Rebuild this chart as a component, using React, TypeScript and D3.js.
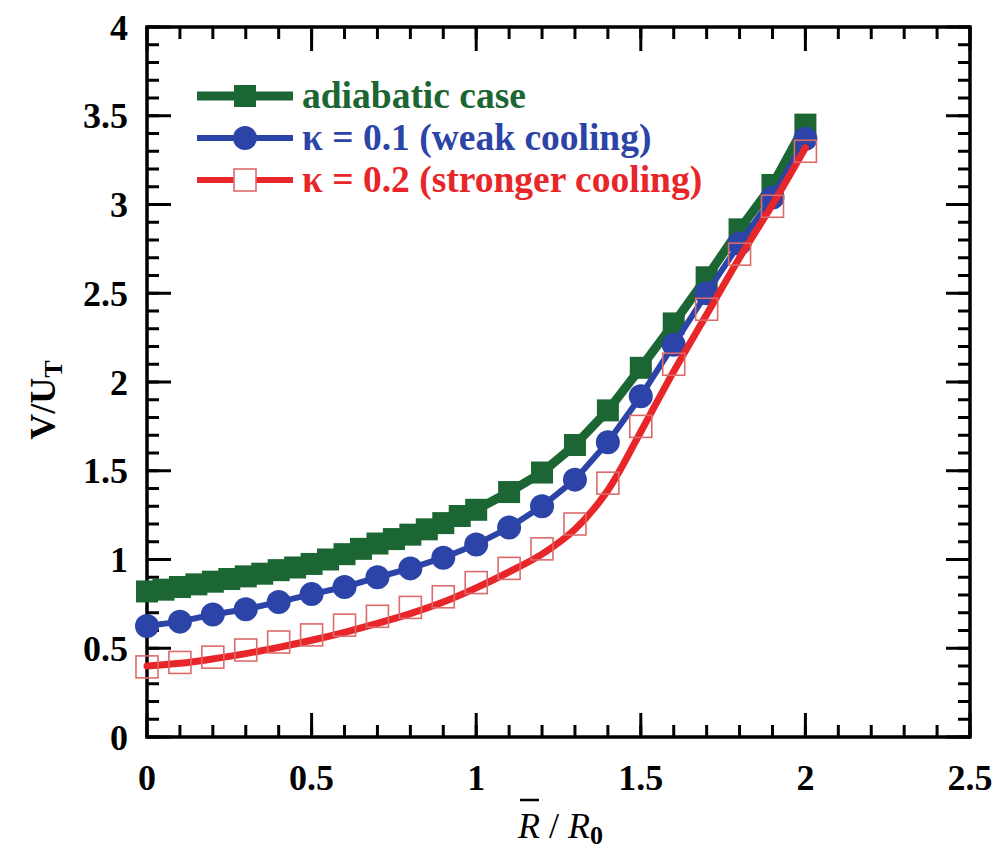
import React from "react";
import * as d3 from "d3";

// ---- data ----
const adiabaticX = [0, 0.05, 0.1, 0.15, 0.2, 0.25, 0.3, 0.35, 0.4, 0.45, 0.5, 0.55, 0.6, 0.65, 0.7, 0.75, 0.8, 0.85, 0.9, 0.95, 1.0, 1.1, 1.2, 1.3, 1.4, 1.5, 1.6, 1.7, 1.8, 1.9, 2.0];
const adiabaticY = [0.82, 0.83, 0.845, 0.86, 0.875, 0.89, 0.905, 0.92, 0.94, 0.955, 0.975, 1.0, 1.03, 1.06, 1.09, 1.115, 1.14, 1.17, 1.205, 1.245, 1.28, 1.38, 1.49, 1.645, 1.84, 2.08, 2.33, 2.59, 2.86, 3.11, 3.45];

const weakX = [0, 0.1, 0.2, 0.3, 0.4, 0.5, 0.6, 0.7, 0.8, 0.9, 1.0, 1.1, 1.2, 1.3, 1.4, 1.5, 1.6, 1.7, 1.8, 1.9, 2.0];
const weakY = [0.625, 0.65, 0.69, 0.72, 0.76, 0.805, 0.845, 0.9, 0.95, 1.01, 1.085, 1.18, 1.3, 1.45, 1.66, 1.92, 2.21, 2.5, 2.78, 3.04, 3.37];

const strongX = [0, 0.1, 0.2, 0.3, 0.4, 0.5, 0.6, 0.7, 0.8, 0.9, 1.0, 1.1, 1.2, 1.3, 1.4, 1.5, 1.6, 1.7, 1.8, 1.9, 2.0];
const strongY = [0.395, 0.42, 0.45, 0.49, 0.535, 0.575, 0.63, 0.68, 0.73, 0.79, 0.87, 0.95, 1.06, 1.2, 1.43, 1.75, 2.1, 2.41, 2.72, 2.99, 3.3];
// smooth curve for the strong-cooling case
const strongLineX = [0, 0.1, 0.2, 0.3, 0.4, 0.5, 0.6, 0.7, 0.8, 0.9, 1.0, 1.1, 1.2, 1.3, 1.4, 1.5, 1.6, 1.7, 1.8, 1.9, 2.0];
const strongLineY = [0.4, 0.415, 0.44, 0.47, 0.505, 0.545, 0.59, 0.64, 0.695, 0.76, 0.84, 0.93, 1.03, 1.17, 1.39, 1.72, 2.06, 2.38, 2.7, 3.0, 3.32];

const xTickLabels = ["0", "0.5", "1", "1.5", "2", "2.5"];
const yTickLabels = ["0", "0.5", "1", "1.5", "2", "2.5", "3", "3.5", "4"];

const legendLabels = ["adiabatic case", "\u03BA = 0.1 (weak cooling)", "\u03BA = 0.2 (stronger cooling)"];

const GREEN = "#1b6633";
const BLUE = "#2c44a8";
const RED = "#e8262a";
const RED_MARK = "#dd6a6a";

const W = 996, H = 855;
const M = { left: 147, right: 970, top: 27, bottom: 737 };
const FONT = "'Liberation Serif', 'Times New Roman', serif";

export default function App() {
  const x = d3.scaleLinear().domain([0, 2.5]).range([M.left, M.right]);
  const y = d3.scaleLinear().domain([0, 4]).range([M.bottom, M.top]);

  const lineLinear = d3.line<[number, number]>().x(d => x(d[0])).y(d => y(d[1]));
  const lineSmooth = d3.line<[number, number]>().x(d => x(d[0])).y(d => y(d[1])).curve(d3.curveCatmullRom.alpha(0.5));

  const greenPts: [number, number][] = adiabaticX.map((v, i) => [v, adiabaticY[i]]);
  const bluePts: [number, number][] = weakX.map((v, i) => [v, weakY[i]]);
  const redPts: [number, number][] = strongX.map((v, i) => [v, strongY[i]]);
  const redLine: [number, number][] = strongLineX.map((v, i) => [v, strongLineY[i]]);

  const xMinor = d3.range(0, 2.5001, 0.1);
  const yMinor = d3.range(0, 4.0001, 0.1);
  const xMajor = d3.range(0, 2.5001, 0.5);
  const yMajor = d3.range(0, 4.0001, 0.5);
  const MAJ = 24, MIN = 12;

  const sq = 22;
  const legX1 = 197, legX2 = 293, legMid = 245;
  const legY = [96, 138, 180];

  return (
    <div style={{ position: "absolute", left: 0, top: 0 }}>
      <svg width={W} height={H} style={{ display: "block", background: "#fff" }}>
        {/* ticks */}
        <g stroke="#000" strokeWidth={3}>
          {xMinor.map((v, i) => (
            <g key={"xm" + i}>
              <line x1={x(v)} x2={x(v)} y1={M.bottom} y2={M.bottom - MIN} />
              <line x1={x(v)} x2={x(v)} y1={M.top} y2={M.top + MIN} />
            </g>
          ))}
          {xMajor.map((v, i) => (
            <g key={"xM" + i}>
              <line x1={x(v)} x2={x(v)} y1={M.bottom} y2={M.bottom - MAJ} />
              <line x1={x(v)} x2={x(v)} y1={M.top} y2={M.top + MAJ} />
            </g>
          ))}
          {yMinor.map((v, i) => (
            <g key={"ym" + i}>
              <line x1={M.left} x2={M.left + MIN} y1={y(v)} y2={y(v)} />
              <line x1={M.right} x2={M.right - MIN} y1={y(v)} y2={y(v)} />
            </g>
          ))}
          {yMajor.map((v, i) => (
            <g key={"yM" + i}>
              <line x1={M.left} x2={M.left + MAJ} y1={y(v)} y2={y(v)} />
              <line x1={M.right} x2={M.right - MAJ} y1={y(v)} y2={y(v)} />
            </g>
          ))}
        </g>
        <rect x={M.left} y={M.top} width={M.right - M.left} height={M.bottom - M.top} fill="none" stroke="#000" strokeWidth={3.5} />

        {/* tick labels */}
        <g fontFamily={FONT} fontWeight="bold" fontSize={36} fill="#000">
          {xMajor.map((v, i) => (
            <text key={"xl" + i} x={x(v)} y={790} textAnchor="middle">{xTickLabels[i]}</text>
          ))}
          {yMajor.map((v, i) => (
            <text key={"yl" + i} x={128} y={y(v)} dy="0.35em" textAnchor="end">{yTickLabels[i]}</text>
          ))}
        </g>

        {/* axis titles */}
        <text transform={`translate(55, 400) rotate(-90)`} fontFamily={FONT} fontWeight="bold" fontSize={36} textAnchor="middle">
          V/U<tspan fontSize={26} dy={7}>T</tspan>
        </text>
        <g fontFamily={FONT} fontSize={36}>
          <text x={(M.left + M.right) / 2 + 2} y={838} textAnchor="middle">
            <tspan fontStyle="italic">R</tspan>
            <tspan> / </tspan>
            <tspan fontStyle="italic">R</tspan>
            <tspan fontSize={26} dy={6} fontWeight="bold">0</tspan>
          </text>
          <line x1={520} x2={539} y1={800} y2={800} stroke="#000" strokeWidth={2.5} />
        </g>

        {/* adiabatic */}
        <path d={lineLinear(greenPts) || ""} fill="none" stroke={GREEN} strokeWidth={9} strokeLinejoin="round" />
        {greenPts.map((d, i) => (
          <rect key={"g" + i} x={x(d[0]) - sq / 2} y={y(d[1]) - sq / 2} width={sq} height={sq} fill={GREEN} />
        ))}
        {/* weak cooling */}
        <path d={lineLinear(bluePts) || ""} fill="none" stroke={BLUE} strokeWidth={6} strokeLinejoin="round" />
        {bluePts.map((d, i) => (
          <circle key={"b" + i} cx={x(d[0])} cy={y(d[1])} r={12} fill={BLUE} />
        ))}
        {/* stronger cooling */}
        <path d={lineSmooth(redLine) || ""} fill="none" stroke={RED} strokeWidth={7} strokeLinecap="round" />
        {redPts.map((d, i) => (
          <rect key={"r" + i} x={x(d[0]) - sq / 2} y={y(d[1]) - sq / 2} width={sq} height={sq} fill="none" stroke={RED_MARK} strokeWidth={1.6} />
        ))}

        {/* legend */}
        <g>
          <line x1={legX1} x2={legX2} y1={legY[0]} y2={legY[0]} stroke={GREEN} strokeWidth={9} />
          <rect x={legMid - sq / 2} y={legY[0] - sq / 2} width={sq} height={sq} fill={GREEN} />
          <line x1={legX1} x2={legX2} y1={legY[1]} y2={legY[1]} stroke={BLUE} strokeWidth={6} />
          <circle cx={legMid} cy={legY[1]} r={12} fill={BLUE} />
          <line x1={legX1} x2={legX2} y1={legY[2]} y2={legY[2]} stroke={RED} strokeWidth={6} />
          <rect x={legMid - sq / 2} y={legY[2] - sq / 2} width={sq} height={sq} fill="#fff" stroke={RED_MARK} strokeWidth={1.6} />
          <g fontFamily={FONT} fontWeight="bold" fontSize={37.5}>
            <text x={302} y={legY[0]} dy="0.32em" fill={GREEN}>{legendLabels[0]}</text>
            <text x={302} y={legY[1]} dy="0.32em" fill={BLUE}>{legendLabels[1]}</text>
            <text x={302} y={legY[2]} dy="0.32em" fill={RED}>{legendLabels[2]}</text>
          </g>
        </g>
      </svg>
    </div>
  );
}
